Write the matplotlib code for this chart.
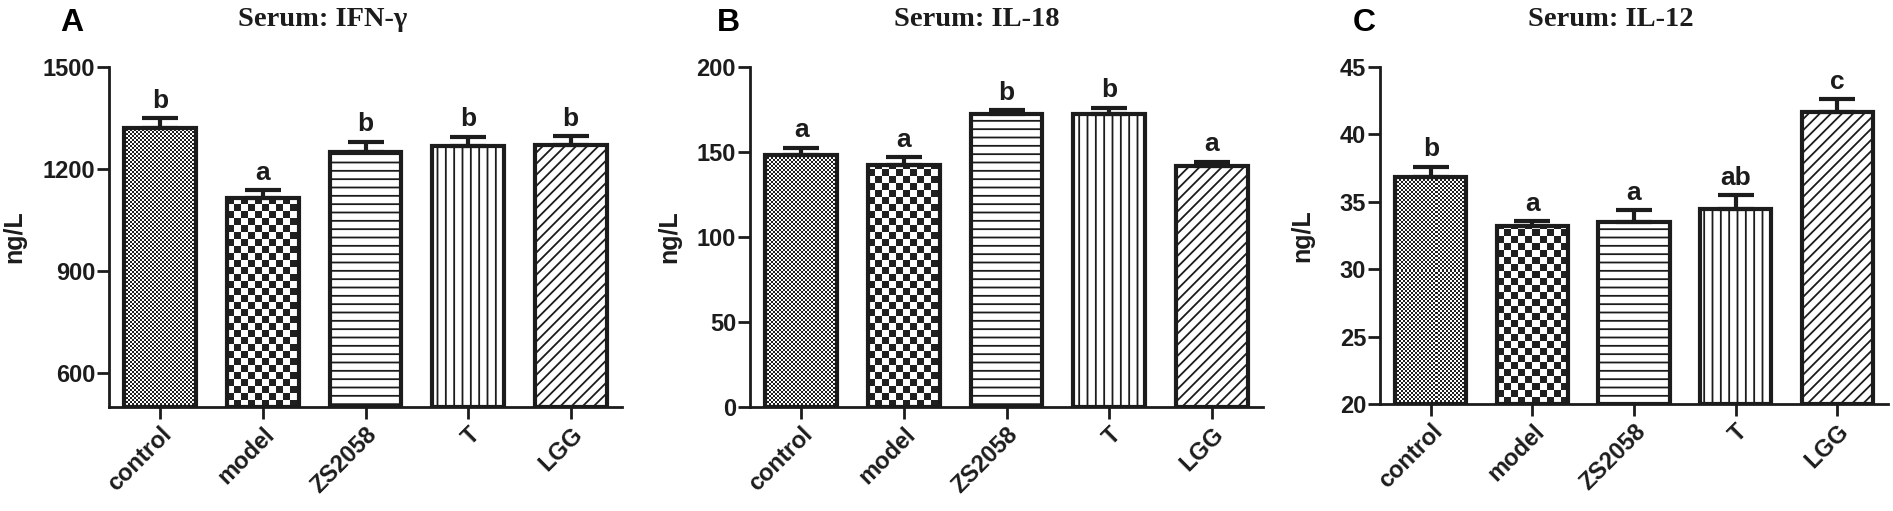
import numpy as np
import matplotlib
matplotlib.use("Agg")
import matplotlib.pyplot as plt
from matplotlib.patches import Rectangle

# ---------------- data ----------------
groups = ["control", "model", "ZS2058", "T", "LGG"]

ifn_vals = [1320, 1114, 1250, 1268, 1270]
ifn_err = [30, 23, 30, 27, 27]
ifn_sig = ["b", "a", "b", "b", "b"]

il18_vals = [148.0, 142.3, 172.2, 172.2, 141.9]
il18_err = [4.5, 4.5, 2.4, 3.9, 2.3]
il18_sig = ["a", "a", "b", "b", "a"]

il12_vals = [36.85, 33.2, 33.5, 34.5, 41.66]
il12_err = [0.75, 0.37, 0.87, 1.0, 0.94]
il12_sig = ["b", "a", "a", "ab", "c"]

titles = ["Serum: IFN-\u03b3", "Serum: IL-18", "Serum: IL-12"]
panel_letters = ["A", "B", "C"]
ylims = [(500, 1500), (0, 200), (20, 45)]
yticks = [[600, 900, 1200, 1500], [0, 50, 100, 150, 200], [20, 25, 30, 35, 40, 45]]
ylabel = "ng/L"

# ---------------- style ----------------
W, H = 1893, 511
DPI = 100
INK = "#1c1c1c"
plt.rcParams["hatch.linewidth"] = 1.3
plt.rcParams["hatch.color"] = INK
SANS = ["Liberation Sans", "DejaVu Sans"]
SERIF = ["Liberation Serif", "DejaVu Serif"]

fig = plt.figure(figsize=(W / DPI, H / DPI), dpi=DPI)

axes_px = [  # left, axis-bottom y (from top), width, top y (from top)
    (109, 407, 513, 67),
    (750, 407, 513, 67),
    (1380, 404, 508, 67),
]
title_cx = [323, 977, 1611]
letter_x = [60, 717, 1353]
ylabel_off = [-0.162, -0.134, -0.130]

# pattern per group: ("checker", cell_px) or ("hatch", pattern)
patterns = [("checker", 2), ("checker", 7), ("hatch", "--"), ("hatch", "||"), ("hatch", "///")]

datasets = [
    (ifn_vals, ifn_err, ifn_sig),
    (il18_vals, il18_err, il18_sig),
    (il12_vals, il12_err, il12_sig),
]

bar_w = 0.7
for i, (vals, errs, sigs) in enumerate(datasets):
    l, b, w, t = axes_px[i]
    ax = fig.add_axes([l / W, (H - b) / H, w / W, (b - t) / H])
    x = np.arange(len(groups))
    ax.set_xlim(-0.5, len(groups) - 0.5)
    ax.set_ylim(*ylims[i])
    y0 = ylims[i][0]

    # white fill bars
    ax.bar(x, np.array(vals) - y0, bottom=y0, width=bar_w, color="white",
           edgecolor="none", zorder=1)
    # patterns
    for j, (kind, spec) in enumerate(patterns):
        x0 = x[j] - bar_w / 2
        v = vals[j]
        if kind == "hatch":
            ax.bar(x[j], v - y0, bottom=y0, width=bar_w, color="none",
                   edgecolor=INK, hatch=spec, linewidth=0, zorder=1.5)
        else:
            cell = spec
            p0 = ax.transData.transform((x0, y0))
            p1 = ax.transData.transform((x0 + bar_w, v))
            wpx, hpx = p1[0] - p0[0], p1[1] - p0[1]
            cols = int(np.ceil(wpx / cell)) + 1
            rows = int(np.ceil(hpx / cell)) + 1
            ii, jj = np.indices((rows, cols))
            img = ((ii + jj) % 2).astype(float)
            ux = bar_w / wpx  # data units per pixel
            uy = (v - y0) / hpx
            ext = (x0, x0 + cols * cell * ux, y0, y0 + rows * cell * uy)
            clip = Rectangle((x0, y0), bar_w, v - y0, transform=ax.transData)
            im = ax.imshow(img, extent=ext, origin="lower", cmap="gray_r",
                           vmin=0, vmax=1.15, interpolation="nearest",
                           aspect="auto", zorder=1.5)
            im.set_clip_path(clip)
    ax.set_xlim(-0.5, len(groups) - 0.5)
    ax.set_ylim(*ylims[i])

    # error bars (upper only)
    ax.errorbar(x, vals, yerr=[np.zeros(len(vals)), errs], fmt="none",
                ecolor=INK, elinewidth=3, capsize=13, capthick=3, zorder=3)
    # bar outlines
    ax.bar(x, np.array(vals) - y0, bottom=y0, width=bar_w, color="none",
           edgecolor=INK, linewidth=3, zorder=4)

    # significance letters
    for j in range(len(groups)):
        ax.annotate(sigs[j], (x[j], vals[j] + errs[j]), xytext=(0, 7.5),
                    textcoords="offset points", ha="center", va="baseline",
                    fontsize=19, fontweight="bold", family=SANS, color=INK,
                    zorder=5)

    # axes styling
    for s in ["top", "right"]:
        ax.spines[s].set_visible(False)
    for s in ["left", "bottom"]:
        ax.spines[s].set_linewidth(2)
        ax.spines[s].set_color(INK)
    ax.set_yticks(yticks[i])
    ax.set_xticks(x)
    ax.set_xticklabels(groups, rotation=45, ha="right", va="top",
                       rotation_mode="anchor")
    ax.tick_params(axis="both", direction="out", length=8.5, width=2,
                   color=INK, labelcolor=INK, labelsize=17)
    ax.tick_params(axis="y", pad=1.5)
    ax.tick_params(axis="x", pad=3)
    for lab in ax.get_xticklabels() + ax.get_yticklabels():
        lab.set_fontweight("bold")
        lab.set_family(SANS)
    ax.set_ylabel(ylabel, fontsize=18, fontweight="bold", family=SANS, color=INK)
    ax.yaxis.set_label_coords(ylabel_off[i], 0.5)
    ax.set_facecolor("none")

    # title and panel letter
    fig.text(title_cx[i] / W, (H - 26) / H, titles[i], ha="center", va="baseline",
             fontsize=20.5, fontweight="bold", family=SERIF, color=INK)
    fig.text(letter_x[i] / W, (H - 31) / H, panel_letters[i], ha="left",
             va="baseline", fontsize=23, fontweight="bold", family=SANS, color="black")

fig.savefig("out.png", dpi=DPI)
